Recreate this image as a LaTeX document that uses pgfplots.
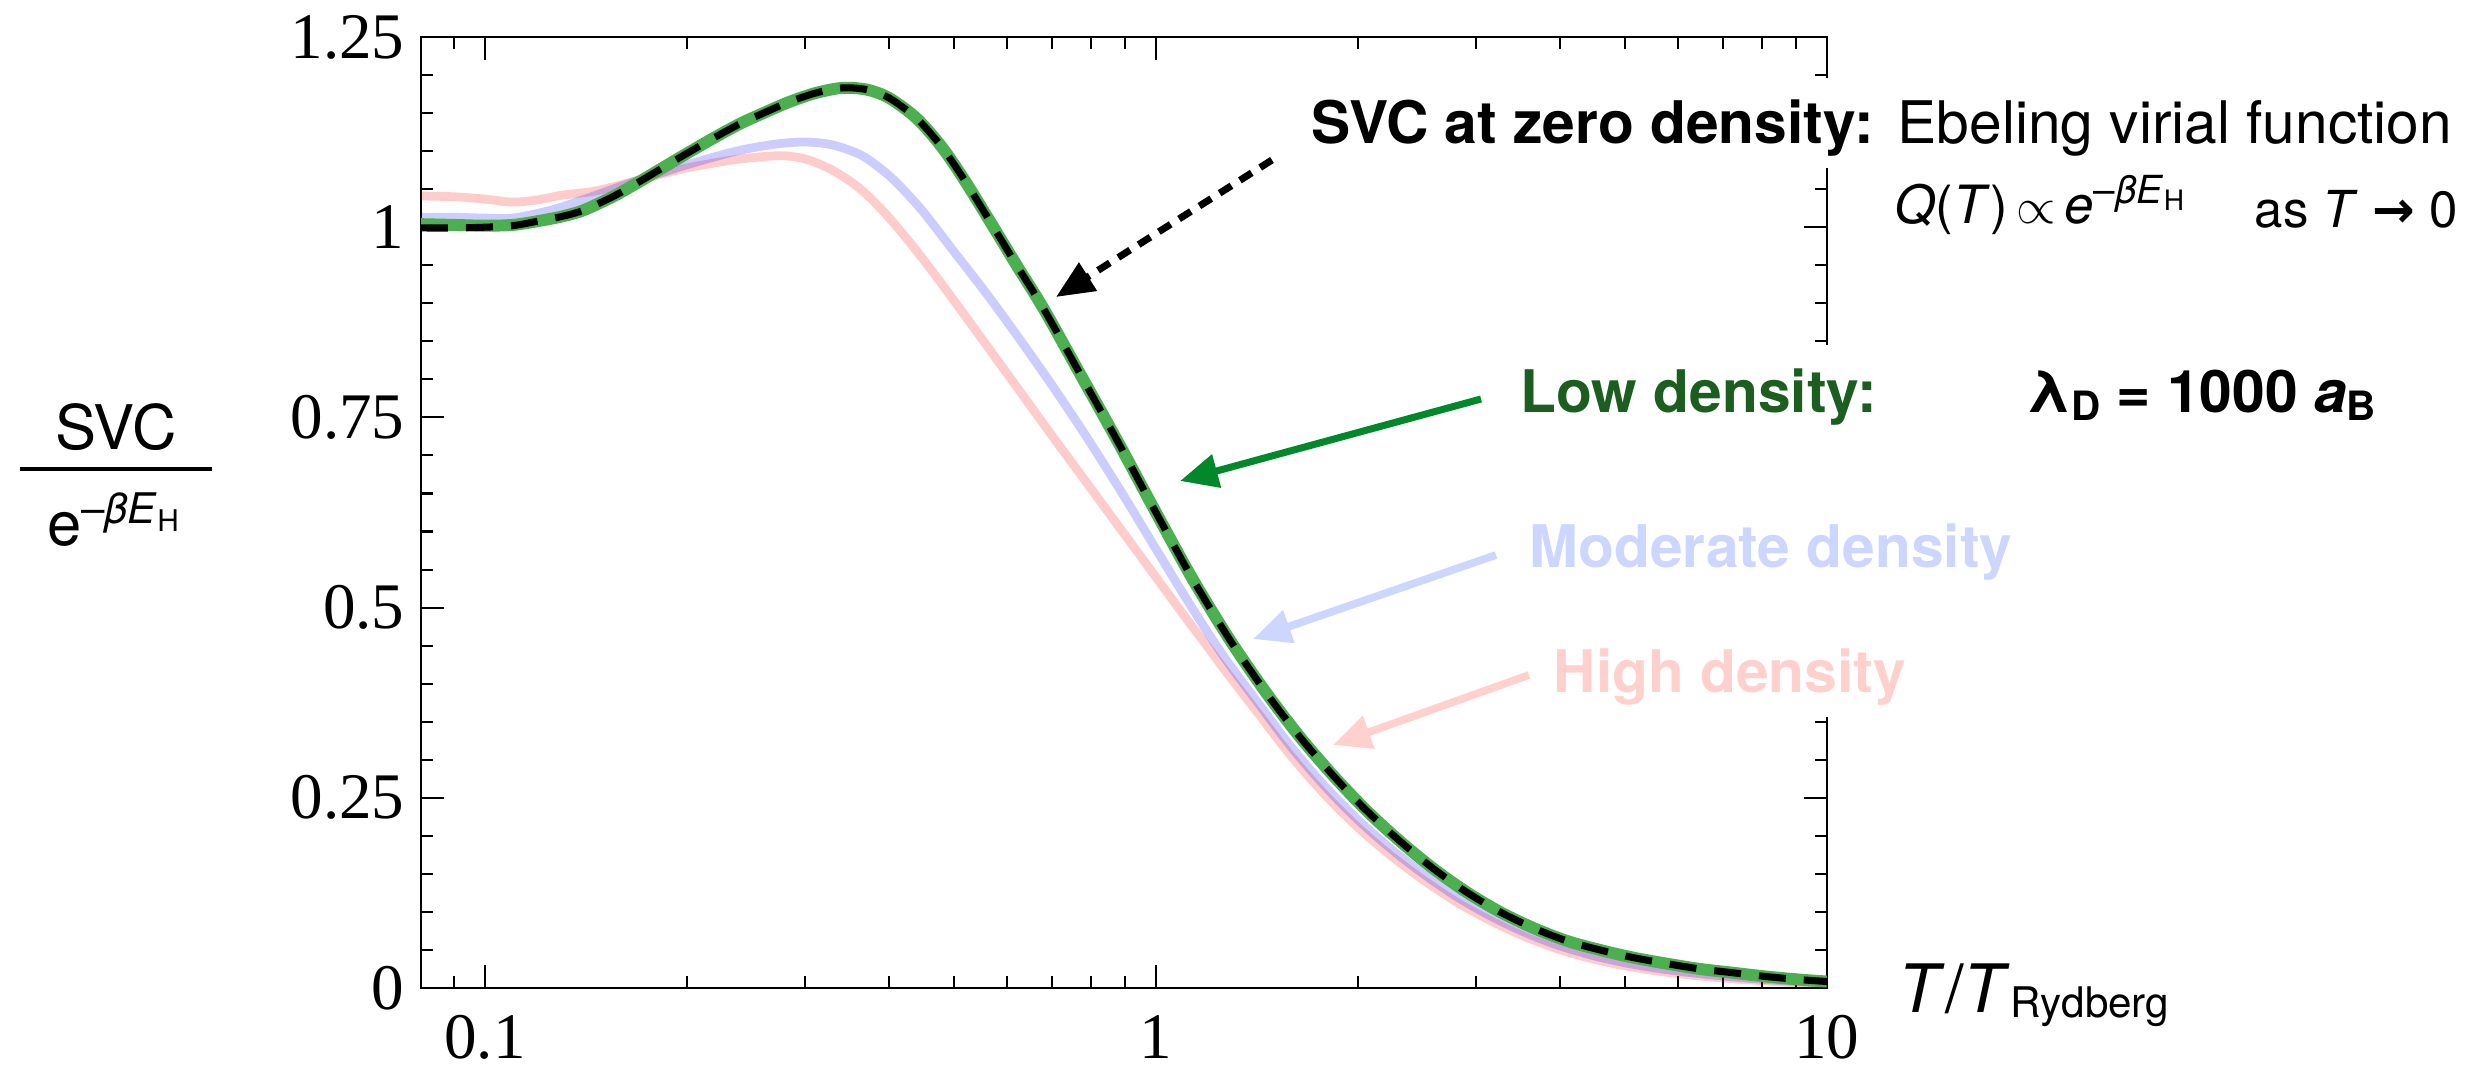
\documentclass[border=0pt]{standalone}
\usepackage{fontspec}
\setmainfont{TeX Gyre Heros}
\newfontfamily\tickfont{Liberation Serif}
\newfontfamily\symfont{DejaVu Sans}
\usepackage{pgfplots}
\pgfplotsset{compat=1.18}
\usetikzlibrary{arrows.meta}

\definecolor{zerogreen}{RGB}{76,175,80}
\definecolor{arrowgreen}{RGB}{0,136,43}
\definecolor{textgreen}{RGB}{27,94,32}
\definecolor{modblue}{RGB}{204,214,255}
\definecolor{highpink}{RGB}{255,208,204}

\newcommand{\annot}{\fontsize{16.7}{19}\selectfont}

\begin{document}
\begin{tikzpicture}
\useasboundingbox (-4.21,-0.82) rectangle (20.63,9.88);
\begin{axis}[
  scale only axis,
  width=14.06cm, height=9.51cm,
  xmode=log, xmin=0.0803, xmax=10,
  ymin=0, ymax=1.25,
  xtick={0.1,1,10}, xticklabels={0.1,1,10},
  minor xtick={0.09,0.2,0.3,0.4,0.5,0.6,0.7,0.8,0.9,2,3,4,5,6,7,8,9},
  ytick={0,0.25,0.5,0.75,1,1.25}, yticklabels={0,0.25,0.5,0.75,1,1.25},
  minor y tick num=4,
  major tick length=0.23cm, minor tick length=0.12cm,
  tick style={line width=0.6pt, black},
  axis line style={line width=0.8pt},
  tick label style={font=\tickfont\fontsize{18.5}{20}\selectfont, inner sep=0pt},
  xticklabel style={yshift=-0.27cm},
  yticklabel style={xshift=-0.16cm},
]
% high density
\addplot[smooth, draw=red, draw opacity=0.2, line width=2.5pt] coordinates {
(0.0803,1.041)(0.09,1.040)(0.1,1.037)(0.11,1.033)(0.12,1.036)(0.13,1.042)(0.145,1.047)
(0.16,1.056)(0.18,1.068)(0.2,1.078)(0.237,1.089)(0.275,1.094)(0.302,1.089)(0.331,1.074)
(0.363,1.050)(0.398,1.015)(0.437,0.972)(0.479,0.926)(0.525,0.878)(0.575,0.830)
(0.631,0.781)(0.692,0.732)(0.759,0.684)(0.832,0.636)(0.912,0.588)(1.0,0.540)
(1.096,0.492)(1.202,0.445)(1.259,0.421)(1.413,0.3635)(1.585,0.3065)(1.778,0.256)
(1.995,0.212)(2.239,0.174)(2.512,0.141)(2.818,0.112)(3.162,0.088)(3.548,0.0675)
(3.981,0.051)(4.467,0.0385)(5.012,0.029)(5.623,0.022)(6.31,0.0168)(7.08,0.0128)
(7.94,0.0097)(8.91,0.007)(10,0.005)
};
% moderate density
\addplot[smooth, draw=blue, draw opacity=0.2, line width=2.5pt] coordinates {
(0.0803,1.013)(0.09,1.013)(0.1,1.012)(0.11,1.012)(0.125,1.022)(0.14,1.036)(0.167,1.060)
(0.2,1.082)(0.237,1.100)(0.27,1.109)(0.30,1.112)(0.33,1.108)(0.365,1.094)(0.40,1.068)
(0.43,1.040)(0.455,1.015)(0.501,0.967)(0.562,0.910)(0.631,0.849)(0.708,0.786)
(0.794,0.720)(0.891,0.650)(1.0,0.577)(1.122,0.505)(1.259,0.437)(1.413,0.377)
(1.585,0.3185)(1.778,0.267)(1.995,0.222)(2.239,0.183)(2.512,0.149)(2.818,0.119)
(3.162,0.094)(3.548,0.073)(3.981,0.056)(4.467,0.043)(5.012,0.033)(5.623,0.0255)
(6.31,0.0198)(7.08,0.0153)(7.94,0.0117)(8.91,0.0088)(10,0.0065)
};
% low density
\addplot[smooth, draw=zerogreen, line width=3.4pt] coordinates {
(0.0803,1.004)(0.09,1.003)(0.1,1.002)(0.11,1.003)(0.12,1.008)(0.13,1.014)(0.14,1.022)
(0.155,1.040)(0.167,1.056)(0.18,1.073)(0.2,1.097)(0.22,1.118)(0.24,1.136)(0.26,1.150)
(0.283,1.164)(0.31,1.176)(0.34,1.183)(0.37,1.181)(0.40,1.170)(0.44,1.143)(0.48,1.105)
(0.52,1.06)(0.57,1.003)(0.62,0.950)(0.68,0.893)(0.77,0.808)(0.875,0.72)(1.0,0.625)
(1.135,0.537)(1.29,0.457)(1.46,0.388)(1.639,0.330)(1.838,0.279)(2.061,0.233)
(2.310,0.193)(2.590,0.157)(2.904,0.126)(3.256,0.100)(3.650,0.079)(4.093,0.062)
(4.589,0.050)(5.14,0.040)(5.77,0.032)(6.47,0.025)(7.25,0.020)(8.13,0.015)(9.12,0.011)
(10,0.0085)
};
% zero density (Ebeling)
\addplot[smooth, black, line width=2pt, dash pattern=on 0.27cm off 0.18cm] coordinates {
(0.0803,0.999)(0.09,0.999)(0.1,1.000)(0.11,1.002)(0.12,1.008)(0.13,1.014)(0.14,1.022)
(0.155,1.040)(0.167,1.056)(0.18,1.073)(0.2,1.097)(0.22,1.118)(0.24,1.136)(0.26,1.150)
(0.283,1.164)(0.31,1.176)(0.34,1.183)(0.37,1.181)(0.40,1.170)(0.44,1.143)(0.48,1.105)
(0.52,1.06)(0.57,1.003)(0.62,0.950)(0.68,0.893)(0.77,0.808)(0.875,0.72)(1.0,0.625)
(1.135,0.537)(1.29,0.457)(1.46,0.388)(1.639,0.330)(1.838,0.279)(2.061,0.233)
(2.310,0.193)(2.590,0.157)(2.904,0.126)(3.256,0.100)(3.650,0.079)(4.093,0.062)
(4.589,0.050)(5.14,0.040)(5.77,0.032)(6.47,0.025)(7.25,0.020)(8.13,0.015)(9.12,0.011)
(10,0.0085)
};
\end{axis}

% gaps in the right frame behind the labels
\fill[white] (13.75,2.71) rectangle (14.25,6.43);
\fill[white] (13.75,8.20) rectangle (14.25,9.10);

% y label
\draw[line width=0.9pt] (-4.01,5.19) -- (-2.09,5.19);
\node[anchor=base, inner sep=0pt, font=\fontsize{17.5}{20}\selectfont] at (-3.05,5.39) {SVC};
\node[anchor=base, inner sep=0pt, font=\fontsize{17.5}{20}\selectfont] at (-3.08,4.43)
  {e\raisebox{0.22cm}{\fontsize{12}{14}\selectfont –\textit{βE}\raisebox{-0.08cm}{\fontsize{8.5}{10}\selectfont H}}};

% x label
\node[anchor=base west, inner sep=0pt, font=\fontsize{19}{22}\selectfont] at (14.77,-0.24)
  {\textit{T}/\textit{T}\raisebox{-0.05cm}{\fontsize{12}{14}\selectfont Rydberg}};

% annotations
\node[anchor=base west, fill=white, inner xsep=0pt, inner ysep=0.12cm, font=\annot\bfseries] at (8.90,8.45) {SVC at zero density:};
\node[anchor=base west, inner sep=0pt, font=\annot] at (14.76,8.45) {Ebeling virial function};
\node[anchor=base west, inner sep=0pt, font=\fontsize{15}{18}\selectfont] at (14.73,7.65)
  {\textit{Q}(\textit{T})\,$\propto$\,\textit{e}\raisebox{0.2cm}{\fontsize{11}{13}\selectfont –\textit{βE}\raisebox{-0.07cm}{\fontsize{8}{9}\selectfont H}}};
\node[anchor=base west, inner sep=0pt, font=\fontsize{14.5}{18}\selectfont] at (18.33,7.61)
  {as \textit{T} {\symfont\bfseries →} 0};
\node[anchor=base west, inner sep=0pt, font=\annot\bfseries, text=textgreen] at (10.99,5.76) {Low density:};
\node[anchor=base west, inner sep=0pt, font=\annot\bfseries] at (16.05,5.76)
  {λ\raisebox{-0.08cm}{\fontsize{11.5}{13}\selectfont D} = 1000 \textit{a}\raisebox{-0.08cm}{\fontsize{11.5}{13}\selectfont B}};
\node[anchor=base west, inner sep=0pt, font=\annot\bfseries, text=modblue] at (11.08,4.21) {Moderate density};
\node[anchor=base west, inner sep=0pt, font=\annot\bfseries, text=highpink] at (11.32,2.96) {High density};

% arrows
\draw[black, line width=2pt, dash pattern=on 0.14cm off 0.10cm,
  -{Triangle[length=0.38cm,width=0.32cm]}] (8.51,8.28) -- (6.35,6.91);
\draw[arrowgreen, line width=2pt, -{Triangle[length=0.38cm,width=0.33cm]}] (10.60,5.89) -- (7.59,5.07);
\draw[modblue, line width=2.2pt, -{Triangle[length=0.38cm,width=0.33cm]}] (10.75,4.33) -- (8.32,3.49);
\draw[highpink, line width=2.2pt, -{Triangle[length=0.38cm,width=0.33cm]}] (11.08,3.13) -- (9.12,2.43);
\end{tikzpicture}
\end{document}
